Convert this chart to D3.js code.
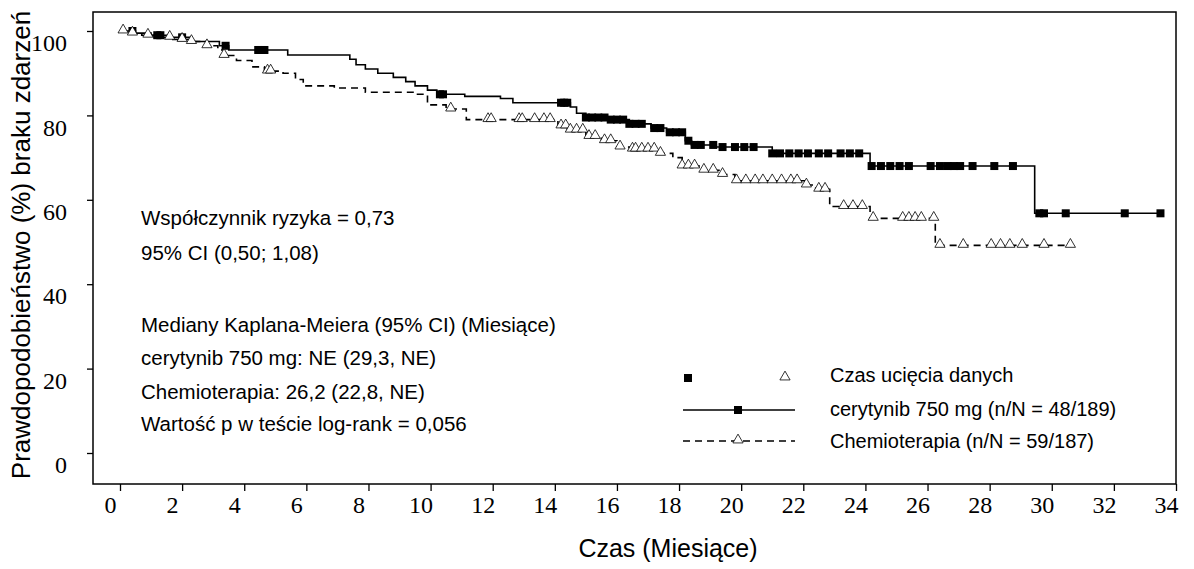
<!DOCTYPE html>
<html><head><meta charset="utf-8">
<script src="https://cdn.jsdelivr.net/npm/d3@7"></script>
<style>body{margin:0;background:#fff}</style>
</head><body>
<svg id="c" width="1194" height="569"></svg>
<script>
// step curves: [month, survival %]
const ceritinib = [[0,100],[0.5,99.5],[1.0,99],[1.6,98.5],[2.3,97.5],[3.2,96.5],[3.5,95.5],[5.4,94.3],[7.4,93.3],[7.6,92],[7.9,91],[8.3,90],[8.8,89],[9.2,88],[9.5,87],[9.9,86],[10.2,85],[11.1,84.5],[12.25,84],[12.65,83],[14.5,82],[14.7,80.5],[15.0,79.5],[15.8,79],[16.4,78],[17.1,77],[17.6,76],[18.2,74],[18.4,73],[19.2,72.5],[21.0,71],[24.15,68],[29.45,56.8],[33.6,56.8]];
const chemo = [[0,100],[0.3,99.5],[0.7,99],[1.1,98.5],[1.7,98],[2.3,97.5],[2.8,96.5],[3.15,95.5],[3.35,94.2],[3.75,93],[4.25,91.5],[4.65,90.5],[5.25,90],[5.65,88.5],[5.9,87],[6.9,86.5],[7.9,85.5],[9.5,85],[9.9,82.5],[10.5,81.5],[11.15,79],[14.1,77.5],[14.4,76.5],[15.0,75],[15.5,74],[16.0,72.5],[16.4,72],[17.4,71],[17.8,70],[18.1,68],[18.8,67],[19.35,66],[19.8,64.5],[22.1,63.5],[22.4,62.5],[22.85,58.4],[24.15,55.6],[26.25,49.2],[30.7,49.2]];
const ceritinibCensor = [0.4,1.2,1.3,2.0,3.4,4.45,4.55,4.65,10.3,10.4,14.2,14.3,14.4,15.0,15.2,15.4,15.6,15.8,16.0,16.2,16.4,16.6,16.8,17.2,17.4,17.7,17.9,18.1,18.3,18.5,18.7,19.1,19.4,19.8,20.1,20.4,21.0,21.25,21.55,21.85,22.15,22.5,22.8,23.2,23.5,23.8,24.2,24.5,24.8,25.1,25.4,26.1,26.4,26.65,26.85,27.05,27.45,28.15,28.75,29.6,29.75,30.45,32.35,33.5];
const chemoCensor = [0.1,0.4,0.9,1.6,2.0,2.3,2.8,3.35,4.75,4.85,10.65,11.85,11.95,12.85,12.95,13.35,13.65,13.85,14.2,14.35,14.5,14.7,14.9,15.1,15.3,15.6,15.8,16.1,16.5,16.6,16.8,17.0,17.2,17.4,18.1,18.3,18.5,18.8,19.1,19.4,19.85,20.15,20.45,20.7,21.0,21.3,21.6,21.8,22.1,22.5,22.7,23.3,23.6,23.9,24.25,25.2,25.4,25.6,25.8,26.2,26.4,27.15,28.05,28.35,28.65,29.05,29.75,30.6];
const xTicks = d3.range(0, 35, 2);
const yTicks = [0, 20, 40, 60, 80, 100];
const notes = ["Współczynnik ryzyka = 0,73", "95% CI (0,50; 1,08)", "Mediany Kaplana-Meiera (95% CI) (Miesiące)", "cerytynib 750 mg: NE (29,3, NE)", "Chemioterapia: 26,2 (22,8, NE)", "Wartość p w teście log-rank = 0,056"];
const noteY = [218, 253, 325, 358, 392, 424];

const SANS = "'Liberation Sans', Arial, Helvetica, sans-serif";
const SERIF = "'Liberation Serif', 'Times New Roman', Times, serif";
const svg = d3.select("#c");
const x = d3.scaleLinear().domain([0, 34]).range([120, 1176]);
const y = d3.scaleLinear().domain([0, 100]).range([453, 31]);

svg.append("rect").attr("x", 93).attr("y", 12).attr("width", 1083).attr("height", 472)
  .attr("fill", "none").attr("stroke", "#000").attr("stroke-width", 1.5);

const xa = svg.append("g").attr("transform", "translate(0,484)")
  .call(d3.axisBottom(x).tickValues(xTicks).tickSize(7).tickSizeOuter(0));
xa.select(".domain").remove();
xa.selectAll("line").attr("stroke-width", 1.3);
xa.selectAll("text").style("font-family", SERIF).style("font-size", "24px").attr("fill", "#000")
  .attr("x", -10).attr("y", 12).attr("dy", "0.72em");
const ya = svg.append("g").attr("transform", "translate(93,0)")
  .call(d3.axisLeft(y).tickValues(yTicks).tickSize(6).tickSizeOuter(0));
ya.select(".domain").remove();
ya.selectAll("line").attr("stroke-width", 1.3);
ya.selectAll("text").style("font-family", SERIF).style("font-size", "24px").attr("fill", "#000")
  .attr("x", -26).attr("dy", "0.82em");

const line = d3.line().x(d => x(d[0])).y(d => y(d[1])).curve(d3.curveStepAfter);
svg.append("path").attr("d", line(ceritinib)).attr("fill", "none").attr("stroke", "#000").attr("stroke-width", 1.6);
svg.append("path").attr("d", line(chemo)).attr("fill", "none").attr("stroke", "#000").attr("stroke-width", 1.6).attr("stroke-dasharray", "7,5");

function at(curve, t) {
  let v = curve[0][1];
  for (const p of curve) if (p[0] <= t) v = p[1];
  return v;
}
const tri = d3.symbol().type(d3.symbolTriangle).size(45);
svg.append("g").selectAll("rect").data(ceritinibCensor).join("rect")
  .attr("x", d => x(d) - 4).attr("y", d => y(at(ceritinib, d)) - 4).attr("width", 8).attr("height", 8).attr("fill", "#000");
svg.append("g").selectAll("path").data(chemoCensor).join("path")
  .attr("d", tri).attr("transform", d => `translate(${x(d)},${y(at(chemo, d)) - 1})`)
  .attr("fill", "#fff").attr("stroke", "#000").attr("stroke-width", 0.8);

svg.append("g").selectAll("text").data(notes).join("text")
  .attr("x", 141).attr("y", (d, i) => noteY[i]).attr("dy", "0.35em")
  .style("font-family", SANS).style("font-size", "20.5px").text(d => d);

// legend
const lg = svg.append("g").style("font-family", SANS).style("font-size", "20px");
lg.append("rect").attr("x", 684).attr("y", 374).attr("width", 8).attr("height", 8);
lg.append("path").attr("d", tri).attr("transform", "translate(785,377)").attr("fill", "#fff").attr("stroke", "#000").attr("stroke-width", 0.8);
lg.append("line").attr("x1", 683).attr("x2", 795).attr("y1", 410).attr("y2", 410).attr("stroke", "#000").attr("stroke-width", 1.6);
lg.append("rect").attr("x", 734).attr("y", 406).attr("width", 8).attr("height", 8);
lg.append("line").attr("x1", 683).attr("x2", 795).attr("y1", 441).attr("y2", 441).attr("stroke", "#000").attr("stroke-width", 1.6).attr("stroke-dasharray", "7,5");
lg.append("path").attr("d", tri).attr("transform", "translate(738,440)").attr("fill", "#fff").attr("stroke", "#000").attr("stroke-width", 0.8);
[["Czas ucięcia danych", 375], ["cerytynib 750 mg (n/N = 48/189)", 409], ["Chemioterapia (n/N = 59/187)", 441]].forEach(([t, yy]) =>
  lg.append("text").attr("x", 830).attr("y", yy).attr("dy", "0.35em").text(t));

svg.append("text").attr("transform", "translate(30,245) rotate(-90)").attr("text-anchor", "middle")
  .style("font-family", SANS).style("font-size", "26px").text("Prawdopodobieństwo (%) braku zdarzeń");
svg.append("text").attr("x", 668).attr("y", 557).attr("text-anchor", "middle")
  .style("font-family", SANS).style("font-size", "25px").text("Czas (Miesiące)");
</script>
</body></html>
